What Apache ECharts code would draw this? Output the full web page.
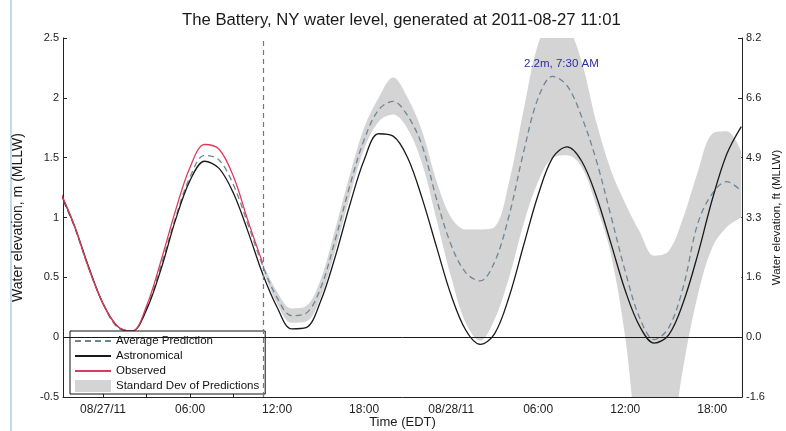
<!DOCTYPE html>
<html>
<head>
<meta charset="utf-8">
<script src="https://cdn.jsdelivr.net/npm/echarts@6/dist/echarts.min.js"></script>
<style>
html, body { margin: 0; padding: 0; background: #fff; }
#main { width: 786px; height: 431px; }
</style>
</head>
<body>
<div id="main"></div>
<script>
// hours since 2011-08-27 00:00 EDT
var hours = [-3, -2, -1, 0, 1, 2, 3, 4, 5, 6, 7, 8, 9, 10, 11, 12, 13, 14, 15, 16, 17, 18, 19, 20,
  21, 22, 23, 24, 25, 26, 27, 28, 29, 30, 31, 32, 33, 34, 35, 36, 37, 38, 39, 40, 41, 42, 43, 44];
var astronomical = [1.22, 0.94, 0.59, 0.28, 0.09, 0.05, 0.23, 0.57, 0.98, 1.31, 1.47, 1.41, 1.20, 0.88, 0.53, 0.25,
  0.07, 0.08, 0.30, 0.67, 1.10, 1.48, 1.70, 1.68, 1.50, 1.16, 0.75, 0.35, 0.06, -0.06, 0.03, 0.34,
  0.77, 1.19, 1.50, 1.59, 1.47, 1.18, 0.79, 0.39, 0.09, -0.05, 0.02, 0.29, 0.69, 1.15, 1.53, 1.76];
var avgPrediction = [1.21, 0.93, 0.58, 0.28, 0.08, 0.05, 0.24, 0.60, 1.00, 1.34, 1.52, 1.48, 1.27, 0.94, 0.60, 0.33,
  0.18, 0.20, 0.41, 0.81, 1.26, 1.65, 1.90, 1.97, 1.85, 1.60, 1.15, 0.77, 0.54, 0.47, 0.63, 1.02,
  1.55, 2.00, 2.18, 2.10, 1.84, 1.48, 1.02, 0.55, 0.16, -0.02, 0.08, 0.42, 0.95, 1.20, 1.30, 1.22];

var obsHours = [-3, -2, -1, 0, 1, 2, 3, 4, 5, 6, 7, 8, 9, 10, 11];
var observed = [1.23, 0.94, 0.58, 0.28, 0.09, 0.05, 0.26, 0.64, 1.06, 1.42, 1.61, 1.57, 1.34, 0.97, 0.62];

var bandHours = [11, 12, 13, 14, 15, 16, 17, 18, 19, 20, 21, 22, 23, 24, 25, 26, 27,
  28, 29, 30, 31, 32, 33, 34, 35, 36, 37, 38, 39, 40, 41, 42, 43, 44];
var bandLow = [0.57, 0.28, 0.12, 0.13, 0.33, 0.72, 1.17, 1.57, 1.80, 1.86, 1.74, 1.45, 0.98, 0.50, 0.12, -0.03, 0.15,
  0.50, 0.95, 1.30, 1.50, 1.52, 1.42, 1.10, 0.70, 0.00, -1.00, -1.30, -1.00, -0.25, 0.35, 0.75, 0.92, 1.00];
var bandHigh = [0.62, 0.38, 0.24, 0.26, 0.48, 0.90, 1.35, 1.75, 2.00, 2.17, 2.00, 1.72, 1.30, 1.00, 0.90, 0.90, 0.92,
  1.30, 1.90, 2.45, 2.65, 2.60, 2.30, 1.80, 1.40, 1.12, 0.88, 0.68, 0.72, 1.00, 1.38, 1.70, 1.72, 1.55];

var xTickHours = [0, 3, 6, 9, 12, 15, 18, 21, 24, 27, 30, 33, 36, 39, 42];
var xLabelHours = [0, 6, 12, 18, 24, 30, 36, 42];
var xTickLabels = ['08/27/11', '06:00', '12:00', '18:00', '08/28/11', '06:00', '12:00', '18:00'];
var ftLabels = ['-1.6', '0.0', '1.6', '3.3', '4.9', '6.6', '8.2'];

var generatedAt = 11.02;
var peakNote = [31.6, 2.2];

var font = 'Liberation Sans, Arial, Helvetica, sans-serif';
var bandColor = '#d4d4d4';

function pairs(xs, ys) {
  return xs.map(function (x, i) { return [x, ys[i]]; });
}

var chart = echarts.init(document.getElementById('main'));

var option = {
  animation: false,
  backgroundColor: '#fff',
  textStyle: { fontFamily: font },
  title: {
    text: 'The Battery, NY water level, generated at 2011-08-27 11:01',
    left: 177, top: 7,
    textStyle: { fontSize: 16.7, fontWeight: 'normal', color: '#1a1a1a', fontFamily: font }
  },
  graphic: [{
    type: 'line', shape: { x1: 11, y1: 0, x2: 11, y2: 431 },
    style: { stroke: '#a9d0ea', lineWidth: 1.5 }, silent: true
  }],
  grid: { left: 63, right: 44, top: 38, bottom: 34, containLabel: false, outerBoundsMode: 'none' },
  legend: {
    left: 70, top: 331, orient: 'vertical',
    itemWidth: 36, itemHeight: 12, itemGap: 3,
    padding: [4, 6, 2, 4],
    borderColor: '#111', borderWidth: 1, backgroundColor: '#fff',
    selectedMode: false,
    itemStyle: { opacity: 0 },
    textStyle: { fontSize: 11.5, color: '#111', fontFamily: font },
    data: ['Average Prediction', 'Astronomical', 'Observed',
      { name: 'Standard Dev of Predictions', icon: 'rect', itemStyle: { opacity: 1, color: bandColor } }]
  },
  xAxis: {
    type: 'value', min: -2.76, max: 44.05,
    name: 'Time (EDT)', nameLocation: 'middle', nameGap: 19, nameMoveOverlap: false,
    nameTextStyle: { fontSize: 13, color: '#1a1a1a' },
    axisLine: { onZero: false, lineStyle: { color: '#222', width: 1 } },
    axisTick: { inside: true, length: 4, customValues: xTickHours, lineStyle: { color: '#222' } },
    axisLabel: {
      customValues: xLabelHours, margin: 7, fontSize: 12, color: '#222',
      formatter: function (v) { return xTickLabels[Math.round(v / 6)]; }
    },
    splitLine: { show: false }
  },
  yAxis: [{
    type: 'value', min: -0.5, max: 2.5, interval: 0.5, position: 'left',
    name: 'Water elevation, m (MLLW)', nameLocation: 'middle', nameGap: 38, nameRotate: 90,
    nameMoveOverlap: false,
    nameTextStyle: { fontSize: 14, color: '#1a1a1a' },
    axisLine: { show: true, onZero: false, lineStyle: { color: '#222' } },
    axisTick: { show: true, inside: true, length: 4, lineStyle: { color: '#222' } },
    axisLabel: { fontSize: 11, color: '#222', margin: 4 },
    splitLine: { show: false }
  }, {
    type: 'value', min: -0.5, max: 2.5, interval: 0.5, position: 'right',
    name: 'Water elevation, ft (MLLW)', nameLocation: 'middle', nameGap: 29, nameRotate: 90,
    nameMoveOverlap: false,
    nameTextStyle: { fontSize: 11.5, color: '#1a1a1a' },
    axisLine: { show: true, onZero: false, lineStyle: { color: '#222' } },
    axisTick: { show: true, inside: true, length: 4, lineStyle: { color: '#222' } },
    axisLabel: {
      fontSize: 11, color: '#222', margin: 4,
      formatter: function (v, i) { return ftLabels[i]; }
    },
    splitLine: { show: false }
  }],
  series: [{
    // upper edge of the spread, filled grey down to the axis
    name: 'Standard Dev of Predictions', type: 'line', data: pairs(bandHours, bandHigh),
    smooth: 0.35, symbol: 'none', silent: true,
    itemStyle: { color: bandColor },
    lineStyle: { width: 0 },
    areaStyle: { color: bandColor, opacity: 1, origin: 'start' }
  }, {
    // lower edge of the spread, white below it
    name: 'bandLower', type: 'line', data: pairs(bandHours, bandLow),
    smooth: 0.35, symbol: 'none', silent: true,
    itemStyle: { color: '#fff' },
    lineStyle: { width: 0 },
    areaStyle: { color: '#fff', opacity: 1, origin: 'start' }
  }, {
    name: 'Average Prediction', type: 'line', data: pairs(hours, avgPrediction),
    smooth: 0.35, symbol: 'none',
    itemStyle: { color: '#6f8593' },
    lineStyle: { color: '#6f8593', width: 1.3, type: [6, 4] },
    markPoint: {
      symbol: 'circle', symbolSize: 0, silent: true,
      label: {
        show: true, position: 'top', distance: 4, formatter: '2.2m, 7:30 AM',
        fontSize: 11.5, color: '#2c2ca4', fontFamily: font
      },
      data: [{ coord: peakNote }]
    }
  }, {
    name: 'Astronomical', type: 'line', data: pairs(hours, astronomical),
    smooth: 0.35, symbol: 'none',
    itemStyle: { color: '#1a1a1a' },
    lineStyle: { color: '#1a1a1a', width: 1.3 },
    markLine: {
      symbol: ['none', 'none'], silent: true, label: { show: false },
      data: [
        { yAxis: 0, lineStyle: { color: '#1a1a1a', width: 1, type: 'solid' } },
        { xAxis: generatedAt, lineStyle: { color: '#777', width: 1.2, type: [5, 4] } }
      ]
    }
  }, {
    name: 'Observed', type: 'line', data: pairs(obsHours, observed),
    smooth: 0.35, symbol: 'none',
    itemStyle: { color: '#dc3b5c' },
    lineStyle: { color: '#dc3b5c', width: 1.3 }
  }]
};

chart.setOption(option);
</script>
</body>
</html>
